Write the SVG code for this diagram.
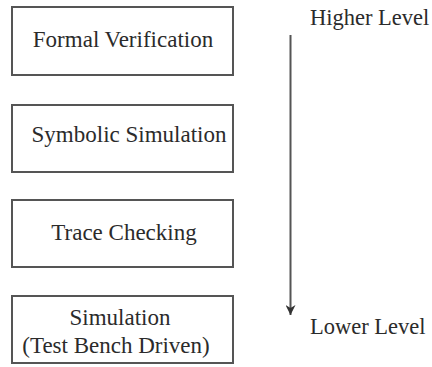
<svg xmlns="http://www.w3.org/2000/svg" width="432" height="367" viewBox="0 0 432 367">
<style>
.box{fill:#fff;stroke:#555;stroke-width:2}
.t{font-family:'Liberation Serif','Times New Roman',Times,serif;font-size:23px;fill:#2b2b2b;text-anchor:middle}
.lbl{font-family:'Liberation Serif','Times New Roman',Times,serif;font-size:22.5px;fill:#2b2b2b}
.conn{stroke:#555;stroke-width:2;fill:none}
</style>
<defs>
<marker id="ah" viewBox="0 0 10 10" refX="10" refY="5" markerWidth="18" markerHeight="10" markerUnits="userSpaceOnUse" orient="auto">
<path d="M0,0 L10,5 L0,10 L3,5 Z" fill="#333"/>
</marker>
</defs>
<rect width="432" height="367" fill="#fff"/>
<g id="formal-verification">
<rect class="box" x="12" y="7" width="221" height="68"/>
<text class="t" x="123" y="47">Formal Verification</text>
</g>
<g id="symbolic-simulation">
<rect class="box" x="12" y="105" width="221" height="67"/>
<text class="t" x="129" y="142">Symbolic Simulation</text>
</g>
<g id="trace-checking">
<rect class="box" x="12" y="200" width="221" height="67"/>
<text class="t" x="124" y="240">Trace Checking</text>
</g>
<g id="simulation">
<rect class="box" x="12" y="296" width="221" height="67"/>
<text class="t" x="120" y="325">Simulation</text>
<text class="t" x="116" y="353">(Test Bench Driven)</text>
</g>
<g id="higher-level">
<text class="lbl" x="310" y="25">Higher Level</text>
</g>
<g id="lower-level">
<text class="lbl" x="310" y="334">Lower Level</text>
</g>
<g id="connectors">
<line class="conn" x1="290.5" y1="35" x2="290.5" y2="315" marker-end="url(#ah)"/>
</g>
</svg>
